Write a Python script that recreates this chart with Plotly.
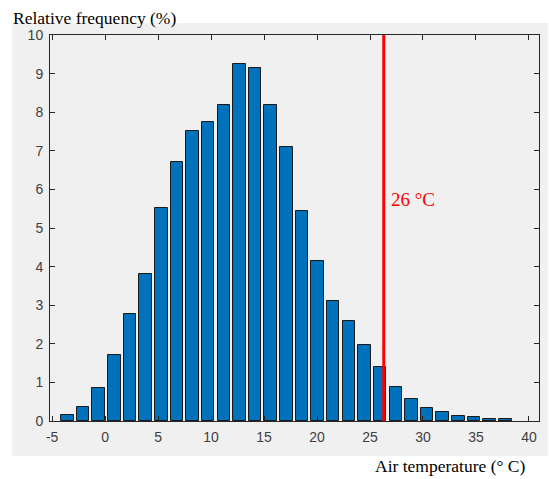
import plotly.graph_objects as go

# Bin centres (°C) and relative frequencies (%)
bin_centers = [-3.56, -2.08, -0.61, 0.87, 2.34, 3.82, 5.30, 6.77, 8.25, 9.72,
               11.20, 12.68, 14.15, 15.63, 17.10, 18.58, 20.06, 21.53, 23.01, 24.48,
               25.96, 27.44, 28.91, 30.39, 31.86, 33.34, 34.82, 36.29, 37.77]
rel_freq = [0.15, 0.35, 0.86, 1.71, 2.77, 3.82, 5.53, 6.70, 7.52, 7.74,
            8.18, 9.24, 9.14, 8.18, 7.10, 5.45, 4.15, 3.10, 2.60, 1.97,
            1.41, 0.89, 0.56, 0.33, 0.23, 0.12, 0.10, 0.05, 0.04]
bin_width = 1.18
threshold = 26.3
threshold_label = "26 \u00b0C"
x_ticks = [-5, 0, 5, 10, 15, 20, 25, 30, 35, 40]
x_ticktext = ["-5", "0", "5", "10", "15", "20", "25", "30", "35", "40"]
y_ticks = list(range(0, 11))

fig = go.Figure()
fig.add_trace(go.Bar(
    x=bin_centers, y=rel_freq, width=bin_width,
    marker=dict(color="#0072BD", line=dict(color="#1a1a1a", width=1)),
    showlegend=False,
))
fig.add_trace(go.Scatter(
    x=[threshold, threshold], y=[0, 10], mode="lines",
    line=dict(color="#FF0000", width=3), showlegend=False, cliponaxis=False,
))

L, R, T, B = 50, 10, 35, 58
W, H = 549, 479
pw, ph = W - L - R, H - T - B

def px(xp):
    return (xp - L) / pw

def py(yp):
    return (H - B - yp) / ph

fig.add_shape(type="rect", xref="paper", yref="paper",
              x0=px(12), x1=px(548), y0=py(456), y1=py(23),
              fillcolor="#F0F0F0", line=dict(width=0), layer="below")

axis_common = dict(
    showline=True, linecolor="#262626", linewidth=1, mirror="allticks",
    ticks="inside", ticklen=5, tickcolor="#262626", showgrid=False, zeroline=False,
    tickfont=dict(family="Liberation Sans, Arial", size=14, color="#404040"),
)
fig.update_xaxes(range=[-5.2, 40.95], tickvals=x_ticks, ticktext=x_ticktext,
                 ticklabelstandoff=3, **axis_common)
fig.update_yaxes(range=[0, 10], tickvals=y_ticks, ticklabelstandoff=3, **axis_common)

fig.add_annotation(x=threshold + 0.45, y=5.74, xref="x", yref="y", text=threshold_label,
                   showarrow=False, xanchor="left", yanchor="middle",
                   font=dict(family="Liberation Serif, Times New Roman", size=19, color="#FF0000"))
fig.add_annotation(x=px(11), y=py(18), xref="paper", yref="paper", text="Relative frequency (%)",
                   showarrow=False, xanchor="left", yanchor="middle",
                   font=dict(family="Liberation Serif, Times New Roman", size=17.5, color="#000000"))
fig.add_annotation(x=px(528), y=py(466), xref="paper", yref="paper", text="Air temperature (\u00b0 C)",
                   showarrow=False, xanchor="right", yanchor="middle",
                   font=dict(family="Liberation Serif, Times New Roman", size=17.5, color="#000000"))

fig.update_layout(
    width=W, height=H, margin=dict(l=L, r=R, t=T, b=B),
    paper_bgcolor="white", plot_bgcolor="white", bargap=0,
)
fig.write_html("out.html")
